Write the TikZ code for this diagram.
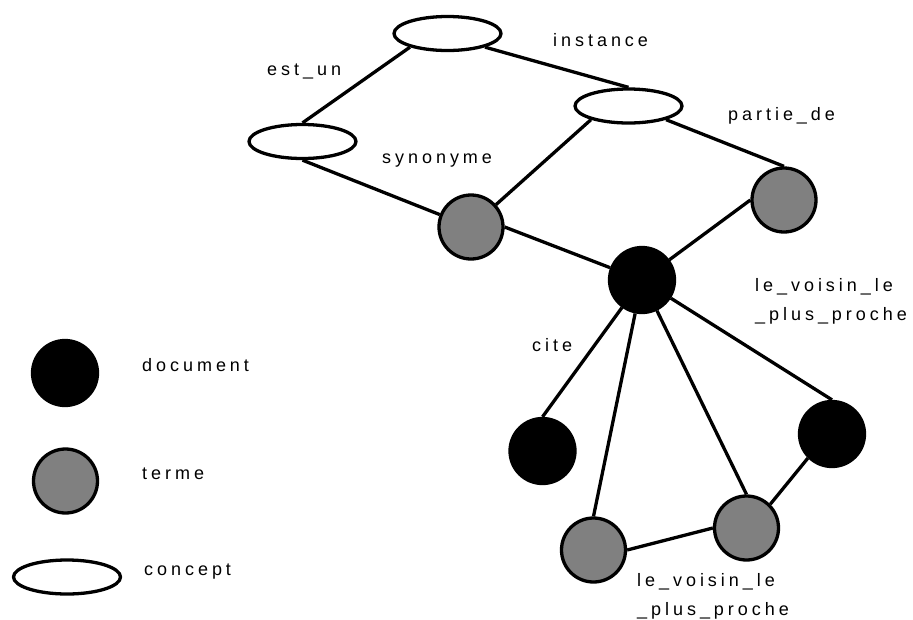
\documentclass[tikz,border=0pt]{standalone}
\usepackage{fontspec}
\setmainfont{Liberation Sans}[LetterSpace=22]
\usepackage{tikz}
\usetikzlibrary{shapes.geometric}
\newcommand{\lblfont}{\fontsize{18}{29.5}\selectfont}
\tikzset{
  doc/.style ={circle, draw, line width=3.3pt, fill=black, minimum size=65pt, inner sep=0pt},
  trm/.style ={circle, draw, line width=3.3pt, fill=gray, minimum size=64pt, inner sep=0pt},
  cpt/.style ={ellipse, draw, line width=3.3pt, fill=white, minimum width=107pt, minimum height=34pt, inner sep=0pt},
  lbl/.style ={font=\lblfont, inner sep=0pt, anchor=base west},
  lbl2/.style={font=\lblfont, inner sep=0pt, anchor=north west, align=left},
  lnk/.style ={line width=3.3pt}
}
\begin{document}
\begin{tikzpicture}[x=1pt,y=-1pt]
\useasboundingbox (0,0) rectangle (913,619);
% concepts
\node[cpt] (ctop)  at (447.5,33.5) {};
\node[cpt] (cleft) at (302.5,141.5) {};
\node[cpt] (cmid)  at (628.5,106) {};
% termes et documents
\node[trm] (tsyn)   at (471,227) {};
\node[trm] (tpart)  at (784,200) {};
\node[doc] (dcen)   at (642,280) {};
\node[doc] (dcite)  at (542.5,451) {};
\node[doc] (dright) at (832,434) {};
\node[trm] (tbl)    at (593.5,550) {};
\node[trm] (tbm)    at (746.5,528) {};
% liens
\draw[lnk] (ctop.200) -- (cleft.north);
\draw[lnk] (ctop.340) -- (cmid.north);
\draw[lnk] (cleft.south) -- (tsyn);
\draw[lnk] (cmid.200) -- (tsyn);
\draw[lnk] (cmid.340) -- (tpart.north);
\draw[lnk] (tsyn.east) -- (dcen);
\draw[lnk] (tpart.west) -- (dcen);
\draw[lnk] (dcen) -- (dcite.north);
\draw[lnk] (dcen) -- (tbl.north);
\draw[lnk] (dcen) -- (tbm.north);
\draw[lnk] (dcen) -- (dright.north);
\draw[lnk] (dright.south west) -- (tbm.north east);
\draw[lnk] (tbl.east) -- (tbm.west);
% etiquettes
\node[lbl] (lestun) at (267,75) {est\_un};
\node[lbl] (linst)  at (553,46) {instance};
\node[lbl] (lsyn)   at (382,163) {synonyme};
\node[lbl] (lpart)  at (728,120) {partie\_de};
\node[lbl] (lcite)  at (532,351) {cite};
\node[lbl2] (lvois1) at (755,278) {le\_voisin\_le\\\_plus\_proche};
\node[lbl2] (lvois2) at (637,573) {le\_voisin\_le\\\_plus\_proche};
% legende
\node[doc] (kdoc) at (65,373) {};
\node[trm] (ktrm) at (65.5,481) {};
\node[cpt] (kcpt) at (67,577) {};
\node[lbl] (ldoc) at (142,371) {document};
\node[lbl] (ltrm) at (142,479) {terme};
\node[lbl] (lcpt) at (144,575) {concept};
\end{tikzpicture}
\end{document}
